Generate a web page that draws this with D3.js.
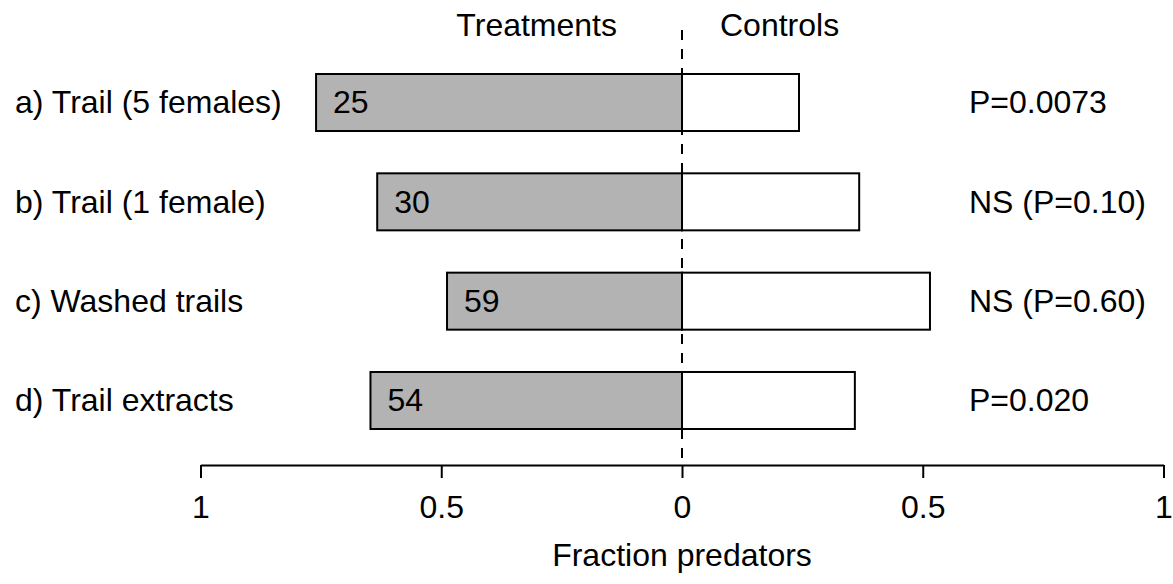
<!DOCTYPE html>
<html>
<head>
<meta charset="utf-8">
<script src="https://cdn.jsdelivr.net/npm/d3@7"></script>
<style>
  html, body { margin: 0; padding: 0; background: #fff; }
  svg text { font-family: "Liberation Sans", Arial, sans-serif; fill: #000; }
</style>
</head>
<body>
<svg id="chart" width="1173" height="584"></svg>
<script>
// ---- data ----
const categories = ["a) Trail (5 females)", "b) Trail (1 female)", "c) Washed trails", "d) Trail extracts"];
const treatments = [0.76, 0.633, 0.488, 0.647];
const controls = [0.243, 0.368, 0.515, 0.359];
const sampleSizes = [25, 30, 59, 54];
const pLabels = ["P=0.0073", "NS (P=0.10)", "NS (P=0.60)", "P=0.020"];
const tickValues = [-1, -0.5, 0, 0.5, 1];
const tickLabels = ["1", "0.5", "0", "0.5", "1"];

const svg = d3.select("#chart");
const FS = 32;

const x = d3.scaleLinear().domain([-1, 1]).range([200.5, 1163.5]);
const y = d3.scaleBand().domain(categories).range([74, 429]).paddingInner(0.426).paddingOuter(0);

const axisY = 465;

// dashed centre line
svg.append("line")
  .attr("x1", x(0)).attr("x2", x(0))
  .attr("y1", 30).attr("y2", axisY)
  .attr("stroke", "#000").attr("stroke-width", 2)
  .attr("stroke-dasharray", "10,9");

const rows = svg.append("g").selectAll("g").data(categories).join("g");

// treatment bars (grey, to the left)
rows.append("rect")
  .attr("x", (d, i) => x(-treatments[i]))
  .attr("y", d => y(d))
  .attr("width", (d, i) => x(0) - x(-treatments[i]))
  .attr("height", y.bandwidth())
  .attr("fill", "#b3b3b3")
  .attr("stroke", "#000").attr("stroke-width", 2);

// control bars (white, to the right)
rows.append("rect")
  .attr("x", x(0))
  .attr("y", d => y(d))
  .attr("width", (d, i) => x(controls[i]) - x(0))
  .attr("height", y.bandwidth())
  .attr("fill", "#fff")
  .attr("stroke", "#000").attr("stroke-width", 2);

// sample size inside bars
rows.append("text")
  .attr("x", (d, i) => x(-treatments[i]) + 17)
  .attr("y", d => y(d) + y.bandwidth() / 2)
  .attr("dy", "0.34em")
  .attr("font-size", FS)
  .text((d, i) => sampleSizes[i]);

// category labels
rows.append("text")
  .attr("x", 15)
  .attr("y", d => y(d) + y.bandwidth() / 2)
  .attr("dy", "0.34em")
  .attr("font-size", FS)
  .text(d => d);

// P labels
rows.append("text")
  .attr("x", 969)
  .attr("y", d => y(d) + y.bandwidth() / 2)
  .attr("dy", "0.34em")
  .attr("font-size", FS)
  .text((d, i) => pLabels[i]);

// top headings
svg.append("text").attr("x", x(0) - 65).attr("y", 36)
  .attr("text-anchor", "end").attr("font-size", FS).text("Treatments");
svg.append("text").attr("x", x(0) + 38).attr("y", 36)
  .attr("text-anchor", "start").attr("font-size", FS).text("Controls");

// x axis
const axis = d3.axisBottom(x)
  .tickValues(tickValues)
  .tickFormat((d, i) => tickLabels[i])
  .tickSize(13)
  .tickSizeOuter(0)
  .tickPadding(17);

const gAxis = svg.append("g").attr("transform", `translate(0,${axisY})`).call(axis);
gAxis.select(".domain").attr("stroke", "#000").attr("stroke-width", 2);
gAxis.selectAll(".tick line").attr("stroke", "#000").attr("stroke-width", 2);
gAxis.selectAll(".tick text")
  .attr("font-size", FS)
  .attr("font-family", "'Liberation Sans', Arial, sans-serif")
  .attr("fill", "#000");

// axis title
svg.append("text")
  .attr("x", x(0)).attr("y", 566)
  .attr("text-anchor", "middle").attr("font-size", FS)
  .text("Fraction predators");
</script>
</body>
</html>
